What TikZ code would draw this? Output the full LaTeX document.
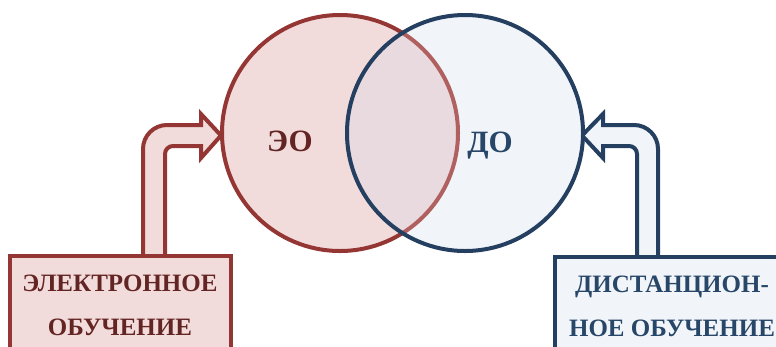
\documentclass[tikz,border=0pt]{standalone}
\usepackage{fontspec}
\setmainfont{Liberation Serif}
\definecolor{redline}{HTML}{943634}
\definecolor{redfill}{HTML}{F2DCDB}
\definecolor{redtext}{HTML}{632523}
\definecolor{blueline}{HTML}{243F60}
\definecolor{bluefill}{HTML}{F1F5F9}
\definecolor{bluetext}{HTML}{284668}
\definecolor{mixfill}{HTML}{E8DADF}
\definecolor{mixline}{HTML}{B0605F}
\begin{document}
\begin{tikzpicture}[x=1pt,y=-1pt,
  redshape/.style={draw=redline,fill=redfill,line width=4pt},
  blueshape/.style={draw=blueline,fill=bluefill,line width=4pt},
  vennc/.style={circle,minimum size=236pt,inner sep=0pt,line width=4pt},
  bigtext/.style={font=\bfseries\fontsize{31}{31}\selectfont},
  boxtext/.style={font=\bfseries\fontsize{25}{44}\selectfont,align=center}]
\useasboundingbox (0,0) rectangle (776,346);
% arrows
\draw[redshape,line join=miter] (143,262) -- (143,149) arc[start angle=180,end angle=270,radius=24]
  -- (201,125) -- (201,114) -- (221,135.5) -- (201,158) -- (201,146) -- (173,146)
  arc[start angle=270,end angle=180,radius=8] -- (165,262) -- cycle;
\draw[blueshape,line join=miter] (658,262) -- (658,149) arc[start angle=0,end angle=-90,radius=24]
  -- (603,125) -- (603,114) -- (582,135.5) -- (603,158) -- (603,146) -- (629,146)
  arc[start angle=-90,end angle=0,radius=8] -- (637,262) -- cycle;
% circles
\node[vennc,draw=redline,fill=redfill] (eo) at (340,133) {};
\node[vennc,fill=bluefill] (do) at (465,133) {};
\begin{scope}
  \clip (465,133) circle[radius=118];
  \draw[fill=mixfill,draw=mixline,line width=4pt] (340,133) circle[radius=118];
\end{scope}
\draw[draw=blueline,line width=4pt] (do.center) circle[radius=118];
\node[bigtext,text=redtext] (eol) at (290,141) {ЭО};
\node[bigtext,text=bluetext] (dol) at (490,146) {ДО};
% boxes
\draw[redshape] (10,256) rectangle (231,370);
\draw[blueshape] (555,257) rectangle (800,370);
\node[boxtext,text=redtext] (eb) at (120,305) {ЭЛЕКТРОННОЕ\\ОБУЧЕНИЕ};
\node[boxtext,text=bluetext] (db) at (672,306) {ДИСТАНЦИОН-\\НОЕ ОБУЧЕНИЕ};
\end{tikzpicture}
\end{document}
